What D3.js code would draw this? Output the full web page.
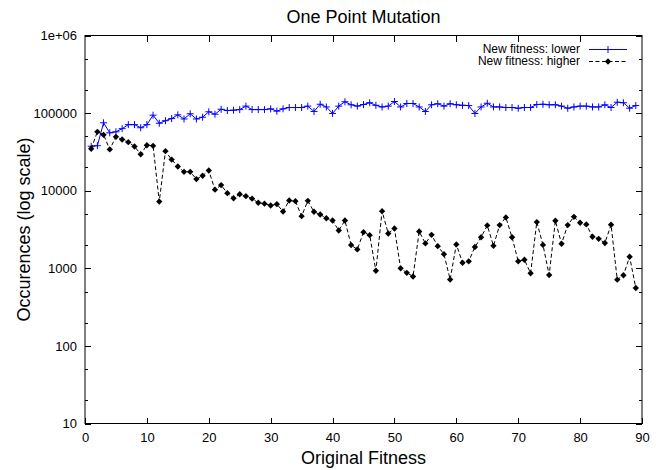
<!DOCTYPE html>
<html>
<head>
<meta charset="utf-8">
<script src="https://cdn.jsdelivr.net/npm/d3@7"></script>
<style>
body { margin: 0; background: #fff; }
svg { display: block; font-family: "Liberation Sans", Arial, sans-serif; }
</style>
</head>
<body>
<svg width="656" height="470"></svg>
<script>
// original fitness values (x)
var fitness = [1,2,3,4,5,6,7,8,9,10,11,12,13,14,15,16,17,18,19,20,21,22,23,24,25,26,27,28,29,30,
  31,32,33,34,35,36,37,38,39,40,41,42,43,44,45,46,47,48,49,50,51,52,53,54,55,56,57,58,59,60,
  61,62,63,64,65,66,67,68,69,70,71,72,73,74,75,76,77,78,79,80,81,82,83,84,85,86,87,88,89];

// "New fitness: lower"
var lower = [37400,38000,75000,55700,57400,63000,71000,71000,64800,71000,94000,74000,79800,85000,95000,
  84000,98000,84000,88500,104000,96800,112000,108000,109000,111000,123000,111000,111000,111000,
  113500,106000,113500,118000,118000,118000,123000,105000,130000,120000,99000,123000,140000,128000,
  123000,129000,136000,126000,120000,123000,141000,120000,133000,133000,120000,105000,128000,132000,
  123000,132000,128000,126000,
  125000,99000,120000,134000,120000,120000,118000,118000,115600,118000,118000,129000,130000,128000,
  128000,123000,115600,120000,123000,123000,120000,120000,128000,118000,138000,136000,115600,125000];

// "New fitness: higher"
var higher = [34700,57400,52500,34000,49500,45700,42200,37100,29500,38500,37900,7250,32300,25200,20500,
  17500,17500,14100,15600,18200,10300,11800,9300,8000,9000,8500,7900,7000,
  6800,6450,6700,5400,7480,7330,4700,7400,5350,4930,4420,4130,3070,4130,1990,1750,2920,2670,930,5450,
  2810,3260,1000,875,784,2980,2090,2700,1930,1520,718,2030,
  1180,1230,1880,2510,3570,1950,3610,4530,2510,1230,1290,863,3940,2000,820,4100,2070,3610,4610,3860,
  3680,2550,2400,2120,3640,713,813,1410,557];

var xTicks = [0,10,20,30,40,50,60,70,80,90];
var yTicks = [10,100,1000,10000,100000,1000000];
var yLabels = ["10","100","1000","10000","100000","1e+06"];
var yMinor = [20,50,200,500,2000,5000,20000,50000,200000,500000];

var svg = d3.select("svg"),
  plotLeft = 85, plotRight = 642, plotTop = 35.5, plotBottom = 423.5;

var x = d3.scaleLinear().domain([0, 90]).range([plotLeft, plotRight]);
var y = d3.scaleLog().domain([10, 1e6]).range([plotBottom, plotTop]);

svg.append("rect").attr("width", 656).attr("height", 470).attr("fill", "#fff");

// axes
var xAxis = svg.append("g")
  .attr("transform", "translate(0," + plotBottom + ")")
  .call(d3.axisBottom(x).tickValues(xTicks).tickSizeInner(-6).tickSizeOuter(0).tickPadding(9));
var xTop = svg.append("g")
  .attr("transform", "translate(0," + plotTop + ")")
  .call(d3.axisTop(x).tickValues(xTicks.slice(1, -1)).tickSizeInner(-6).tickSizeOuter(0).tickFormat(""));
var yAxis = svg.append("g")
  .attr("transform", "translate(" + plotLeft + ",0)")
  .call(d3.axisLeft(y).tickValues(yTicks).tickSizeInner(-6).tickSizeOuter(0).tickPadding(8)
    .tickFormat(function(d, i) { return yLabels[i]; }));
var yRight = svg.append("g")
  .attr("transform", "translate(" + plotRight + ",0)")
  .call(d3.axisRight(y).tickValues(yTicks).tickSizeInner(-6).tickSizeOuter(0).tickFormat(""));

[xAxis, xTop, yAxis, yRight].forEach(function(a) {
  a.select(".domain").remove();
  a.selectAll("line").attr("stroke", "#000").attr("shape-rendering", "crispEdges");
  a.selectAll("text").attr("font-size", 13).attr("fill", "#000")
    .attr("font-family", "'Liberation Sans', Arial, sans-serif");
});

// minor ticks (both sides)
svg.append("g").selectAll("line").data(yMinor).enter().append("line")
  .attr("x1", plotLeft).attr("x2", plotLeft + 3)
  .attr("y1", function(d) { return Math.round(y(d)) + 0.5; })
  .attr("y2", function(d) { return Math.round(y(d)) + 0.5; })
  .attr("stroke", "#000");
svg.append("g").selectAll("line").data(yMinor).enter().append("line")
  .attr("x1", plotRight - 3).attr("x2", plotRight)
  .attr("y1", function(d) { return Math.round(y(d)) + 0.5; })
  .attr("y2", function(d) { return Math.round(y(d)) + 0.5; })
  .attr("stroke", "#000");

// frame
svg.append("rect")
  .attr("x", plotLeft).attr("y", plotTop)
  .attr("width", plotRight - plotLeft).attr("height", plotBottom - plotTop)
  .attr("fill", "none").attr("stroke", "#000").attr("stroke-width", 1);

// series
var line = d3.line()
  .x(function(d, i) { return x(fitness[i]); })
  .y(function(d) { return y(d); });

svg.append("path").datum(lower)
  .attr("d", line)
  .attr("fill", "none").attr("stroke", "#0000ff").attr("stroke-width", 1);

svg.append("g").selectAll("path").data(lower).enter().append("path")
  .attr("transform", function(d, i) { return "translate(" + x(fitness[i]) + "," + y(d) + ")"; })
  .attr("d", "M-3.5,0H3.5M0,-3.5V3.5")
  .attr("stroke", "#0000ff").attr("stroke-width", 1);

svg.append("path").datum(higher)
  .attr("d", line)
  .attr("fill", "none").attr("stroke", "#000").attr("stroke-width", 1)
  .attr("stroke-dasharray", "4,2.5");

var diamond = d3.symbol().type(d3.symbolSquare).size(20);
svg.append("g").selectAll("path").data(higher).enter().append("path")
  .attr("transform", function(d, i) { return "translate(" + x(fitness[i]) + "," + y(d) + ") rotate(45)"; })
  .attr("d", diamond)
  .attr("fill", "#000");

// legend
var legend = svg.append("g").attr("font-size", 12);
legend.append("text").attr("x", 580).attr("y", 53).attr("text-anchor", "end").text("New fitness: lower");
legend.append("text").attr("x", 580).attr("y", 65).attr("text-anchor", "end").text("New fitness: higher");
legend.append("line").attr("x1", 589).attr("x2", 627).attr("y1", 49.5).attr("y2", 49.5)
  .attr("stroke", "#0000ff");
legend.append("path").attr("transform", "translate(608,49.5)").attr("d", "M-3.5,0H3.5M0,-3.5V3.5")
  .attr("stroke", "#0000ff");
legend.append("line").attr("x1", 589).attr("x2", 627).attr("y1", 61.5).attr("y2", 61.5)
  .attr("stroke", "#000").attr("stroke-dasharray", "4,2.5");
legend.append("path").attr("transform", "translate(608,61.5) rotate(45)").attr("d", diamond).attr("fill", "#000");

// titles
svg.append("text").attr("x", (plotLeft + plotRight) / 2).attr("y", 22.5)
  .attr("text-anchor", "middle").attr("font-size", 18).text("One Point Mutation");
svg.append("text").attr("x", (plotLeft + plotRight) / 2).attr("y", 464)
  .attr("text-anchor", "middle").attr("font-size", 18).text("Original Fitness");
svg.append("text")
  .attr("transform", "translate(30," + ((plotTop + plotBottom) / 2) + ") rotate(-90)")
  .attr("text-anchor", "middle").attr("font-size", 18).text("Occurences (log scale)");
</script>
</body>
</html>
